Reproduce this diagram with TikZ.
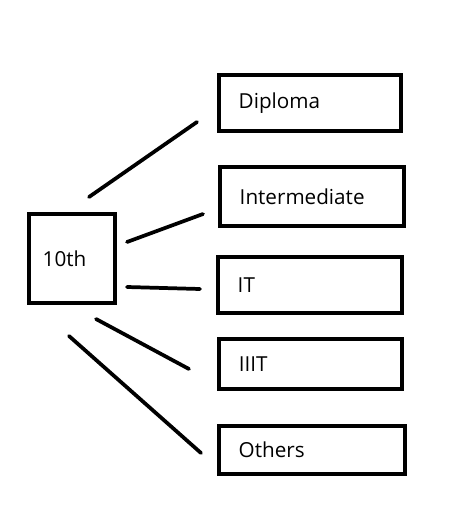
\documentclass[tikz,border=0pt]{standalone}
\usepackage{fontspec}
\setmainfont{Open Sans}
\begin{document}
\begin{tikzpicture}[x=0.75pt,y=-0.75pt,box/.style={draw,line width=2.7pt,align=left,inner xsep=15pt,inner ysep=0pt,font=\fontsize{15.5}{18}\selectfont},link/.style={line width=2.8pt,line cap=round}]
\useasboundingbox[fill=white] (0,0) rectangle (459,528);
\node[box,inner xsep=10.5pt,text width=43.9pt,minimum height=67.1pt] (ten) at (72,258.5) {10th};
\node[box,text width=106.9pt,minimum height=42.4pt] (diploma) at (310,103) {Diploma};
\node[box,text width=108.4pt,minimum height=44.6pt] (inter) at (312,196.5) {Intermediate};
\node[box,text width=108.4pt,minimum height=42.4pt] (it) at (310,285) {IT};
\node[box,text width=107.6pt,minimum height=37.9pt] (iiit) at (310.5,364) {IIIT};
\node[box,text width=109.9pt,minimum height=36.4pt] (others) at (312,450) {Others};
\coordinate (tenA) at (89,197);
\coordinate (tenB) at (127,242);
\coordinate (tenC) at (127,287);
\coordinate (tenD) at (96,319);
\coordinate (tenE) at (69,336);
\coordinate (diplomaIn) at (197,122);
\coordinate (interIn) at (203,214);
\coordinate (itIn) at (200,289);
\coordinate (iiitIn) at (189,369);
\coordinate (othersIn) at (201,453);
\draw[link] (tenA) -- (diplomaIn);
\draw[link] (tenB) -- (interIn);
\draw[link] (tenC) -- (itIn);
\draw[link] (tenD) -- (iiitIn);
\draw[link] (tenE) -- (othersIn);
\end{tikzpicture}
\end{document}
